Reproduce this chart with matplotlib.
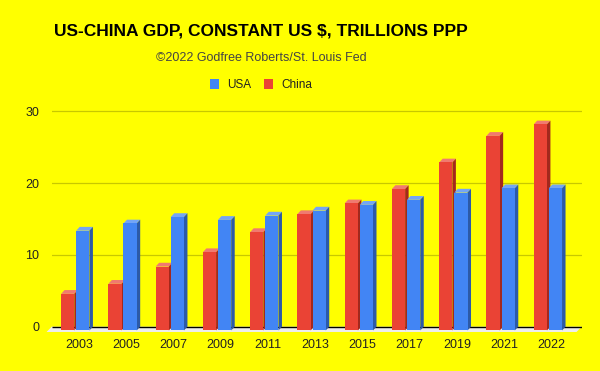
import matplotlib
matplotlib.use("Agg")
import matplotlib.pyplot as plt
from matplotlib.patches import Polygon, Patch

plt.rcParams['font.family'] = ['Liberation Sans', 'DejaVu Sans']

years = ['2003', '2005', '2007', '2009', '2011', '2013', '2015', '2017', '2019', '2021', '2022']
china = [5.1, 6.5, 8.9, 10.9, 13.7, 16.2, 17.7, 19.7, 23.4, 27.1, 28.7]
usa = [13.9, 14.9, 15.8, 15.4, 16.0, 16.7, 17.5, 18.2, 19.2, 19.8, 19.8]

BG = '#ffff00'
RED, RED_TOP, RED_SIDE = '#ea4335', '#f07a70', '#a3281d'
BLUE, BLUE_TOP, BLUE_SIDE = '#4285f4', '#74a5f6', '#2c5aa8'

fig = plt.figure(figsize=(6, 3.71), dpi=100, facecolor=BG)
ax = fig.add_axes([0.0862, 0.1040, 0.8833, 0.6038], facecolor=BG)

x_lo, x_hi = -0.572, 10.642
y_lo, y_hi = -0.8, 30.4
ax.set_xlim(x_lo, x_hi)
ax.set_ylim(y_lo, y_hi)

# depth of the 3d effect in data units (about 3.5px across, 3.8px up)
dx = 3.5 / 47.26
dy = 3.8 / 7.18
w = 0.28

for v in [10, 20, 30]:
    ax.axhline(v, color='#c8c800', lw=0.9, zorder=1)

# floor under the bars
floor = Polygon([(x_lo, 0), (x_hi, 0), (x_hi - 0.11, -0.74), (x_lo - 0.11, -0.74)],
                closed=True, facecolor='#eeeeee', edgecolor='none', zorder=1, clip_on=False)
ax.add_patch(floor)
ax.plot([x_lo, x_hi], [0, 0], color='black', lw=1, zorder=2, solid_capstyle='butt')


def bar3d(xc, v, face, top, side, z):
    xl, xr = xc - w / 2, xc + w / 2
    ax.bar(xc - dx, v, width=w, bottom=-dy, color=face, zorder=z + 0.2, linewidth=0)
    ax.add_patch(Polygon([(xl - dx, v - dy), (xr - dx, v - dy), (xr, v), (xl, v)],
                         closed=True, facecolor=top, edgecolor='none', zorder=z))
    ax.add_patch(Polygon([(xr - dx, -dy), (xr, 0), (xr, v), (xr - dx, v - dy)],
                         closed=True, facecolor=side, edgecolor='none', zorder=z))


for i in range(len(years)):
    bar3d(i - 0.16, china[i], RED, RED_TOP, RED_SIDE, 3 + i)
    bar3d(i + 0.16, usa[i], BLUE, BLUE_TOP, BLUE_SIDE, 3.5 + i)

ax.set_yticks([0, 10, 20, 30])
ax.set_xticks(range(len(years)))
ax.set_xticklabels(years)
ax.tick_params(axis='both', length=0, labelsize=9, colors='#222222')
ax.tick_params(axis='y', pad=9)
ax.tick_params(axis='x', pad=5)
for s in ax.spines.values():
    s.set_visible(False)

fig.text(261 / 600, 1 - 30.5 / 371, 'US-CHINA GDP, CONSTANT US $, TRILLIONS PPP',
         ha='center', va='center', fontsize=12.5, fontweight='bold', color='black')
fig.text(261 / 600, 1 - 58 / 371, '©2022 Godfree Roberts/St. Louis Fed',
         ha='center', va='center', fontsize=9, color='#444444')

handles = [Patch(facecolor=BLUE, edgecolor='none'), Patch(facecolor=RED, edgecolor='none')]
fig.legend(handles, ['USA', 'China'], loc='center', bbox_to_anchor=(261 / 600, 1 - 84.7 / 371),
           ncol=2, frameon=False, fontsize=8.5, handlelength=0.75, handleheight=0.9,
           handletextpad=0.7, columnspacing=1.1, labelcolor='#222222')

fig.savefig('out.png', dpi=100, facecolor=BG)
